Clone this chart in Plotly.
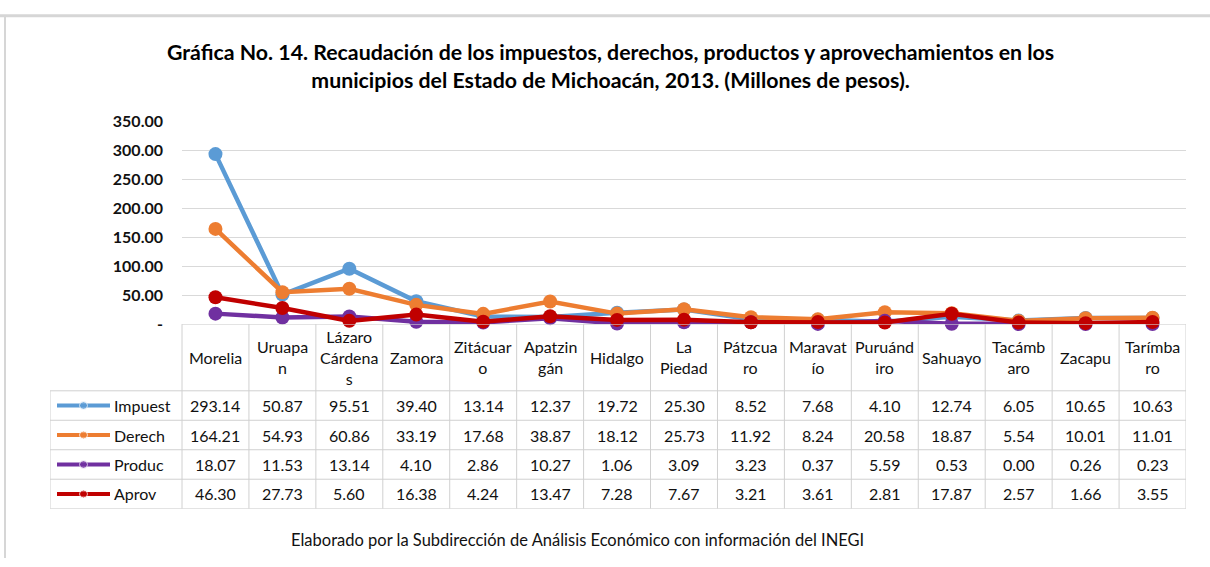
import plotly.graph_objects as go

# datos (millones de pesos)
municipios = ["Morelia", "Uruapan", "Lázaro Cárdenas", "Zamora", "Zitácuaro", "Apatzingán",
              "Hidalgo", "La Piedad", "Pátzcuaro", "Maravatío", "Puruándiro", "Sahuayo",
              "Tacámbaro", "Zacapu", "Tarímbaro"]
# encabezados tal como se cortan en la tabla
encabezados = ["Morelia", "Uruapa<br>n", "Lázaro<br>Cárdena<br>s", "Zamora", "Zitácuar<br>o",
               "Apatzin<br>gán", "Hidalgo", "La<br>Piedad", "Pátzcua<br>ro", "Maravat<br>ío",
               "Puruánd<br>iro", "Sahuayo", "Tacámb<br>aro", "Zacapu", "Tarímba<br>ro"]

impuestos = [293.14, 50.87, 95.51, 39.40, 13.14, 12.37, 19.72, 25.30, 8.52, 7.68, 4.10, 12.74, 6.05, 10.65, 10.63]
derechos = [164.21, 54.93, 60.86, 33.19, 17.68, 38.87, 18.12, 25.73, 11.92, 8.24, 20.58, 18.87, 5.54, 10.01, 11.01]
productos = [18.07, 11.53, 13.14, 4.10, 2.86, 10.27, 1.06, 3.09, 3.23, 0.37, 5.59, 0.53, 0.00, 0.26, 0.23]
aprovech = [46.30, 27.73, 5.60, 16.38, 4.24, 13.47, 7.28, 7.67, 3.21, 3.61, 2.81, 17.87, 2.57, 1.66, 3.55]

series = [
    ("Impuest", impuestos, "#5B9BD5"),
    ("Derech", derechos, "#ED7D31"),
    ("Produc", productos, "#7030A0"),
    ("Aprov", aprovech, "#C00000"),
]

y_ticks = [0, 50, 100, 150, 200, 250, 300, 350]
y_text = ["-" if v == 0 else f"{v:.2f}" for v in y_ticks]

W, H = 1210, 567
FONT = "Lato"
GRID = "#D9D9D9"

def px(x):
    return x / W

def py(y):
    return 1 - y / H

# geometria de la grafica / tabla
plot_l, plot_r, plot_t, plot_b = 182, 1186, 115, 325
tab_l, tab_b = 50, 516
hdr_b = 394
n = len(municipios)
col_w = (plot_r - plot_l) / n
lab_w = (plot_l - tab_l) / col_w          # ancho de la columna de etiquetas en unidades de categoria
row_h = (tab_b - hdr_b) / len(series)
HDR = (hdr_b - plot_b) / row_h            # alto del encabezado en unidades de fila
x_left = -0.5 - lab_w

fig = go.Figure()

cats = list(range(n))
for name, vals, color in series:
    fig.add_trace(go.Scatter(
        x=cats, y=vals, mode="lines+markers", name=name,
        line=dict(color=color, width=4.5),
        marker=dict(color=color, size=14),
        cliponaxis=False,
        xaxis="x", yaxis="y",
    ))

shapes = []
annotations = []
cell_font = dict(family=FONT, size=16, color="#111111")

# claves de la leyenda en la columna de etiquetas
for r, (name, vals, color) in enumerate(series):
    yc = HDR + r + 0.5
    k0 = x_left + 7 / col_w
    k1 = x_left + 60 / col_w
    fig.add_trace(go.Scatter(
        x=[k0, (k0 + k1) / 2, k1], y=[yc, yc, yc], mode="lines+markers",
        line=dict(color=color, width=4),
        marker=dict(color=color, size=[0, 8, 0]),
        xaxis="x2", yaxis="y2", hoverinfo="skip",
    ))
    annotations.append(dict(
        x=x_left + 62 / col_w, y=yc, xref="x2", yref="y2", text=name,
        showarrow=False, xanchor="left", yanchor="middle", font=cell_font,
    ))
    for i, v in enumerate(vals):
        annotations.append(dict(
            x=i, y=yc, xref="x2", yref="y2", text=f"{v:.2f}",
            showarrow=False, xanchor="center", yanchor="middle", font=cell_font,
        ))

# encabezados
for i, t in enumerate(encabezados):
    annotations.append(dict(
        x=i, y=HDR / 2, xref="x2", yref="y2", text=t,
        showarrow=False, xanchor="center", yanchor="middle", font=cell_font,
    ))

# bordes de la tabla
line_style = dict(color="#D0D0D0", width=1)
for i in range(n + 1):
    shapes.append(dict(type="line", xref="x2", yref="y2", x0=i - 0.5, x1=i - 0.5,
                       y0=0, y1=HDR + len(series), line=line_style))
shapes.append(dict(type="line", xref="x2", yref="y2", x0=x_left, x1=x_left,
                   y0=HDR, y1=HDR + len(series), line=line_style))
shapes.append(dict(type="line", xref="x2", yref="y2", x0=-0.5, x1=n - 0.5,
                   y0=0, y1=0, line=line_style))
for r in range(len(series) + 1):
    shapes.append(dict(type="line", xref="x2", yref="y2", x0=x_left, x1=n - 0.5,
                       y0=HDR + r, y1=HDR + r, line=line_style))

# marco exterior
shapes.append(dict(type="line", xref="paper", yref="paper", x0=0, x1=1, y0=py(6), y1=py(6),
                   line=dict(color="#D6D6D6", width=3)))
shapes.append(dict(type="line", xref="paper", yref="paper", x0=px(5), x1=px(5), y0=0, y1=py(6),
                   line=dict(color="#D6D6D6", width=2)))

# titulo y nota
annotations.append(dict(
    x=px(610), y=py(58), xref="paper", yref="paper", showarrow=False,
    text="<b>Gráfica No. 14. Recaudación de los impuestos, derechos, productos y aprovechamientos en los<br>"
         "municipios del Estado de Michoacán, 2013. (Millones de pesos).</b>",
    font=dict(family=FONT, size=21.3, color="#000000"), xanchor="center", yanchor="middle",
))
annotations.append(dict(
    x=px(577), y=py(548), xref="paper", yref="paper", showarrow=False,
    text="Elaborado por la Subdirección de Análisis Económico con información del INEGI",
    font=dict(family=FONT, size=16.5, color="#111111"), xanchor="center", yanchor="middle",
))

fig.update_layout(
    width=W, height=H,
    margin=dict(l=0, r=0, t=0, b=0),
    paper_bgcolor="white", plot_bgcolor="white",
    showlegend=False,
    xaxis=dict(domain=[px(plot_l), px(plot_r)], range=[-0.5, n - 0.5], showgrid=False,
               zeroline=False, showticklabels=False, showline=False, fixedrange=True),
    yaxis=dict(domain=[py(plot_b), py(plot_t)], range=[0, 350], tickvals=y_ticks, ticktext=y_text,
               showgrid=True, gridcolor=GRID, gridwidth=1, zeroline=False, showline=False,
               ticklabelstandoff=18,
               tickfont=dict(family=FONT, size=16, color="#111111", weight="bold")),
    xaxis2=dict(domain=[px(tab_l), px(plot_r)], range=[x_left, n - 0.5], anchor="y2", visible=False),
    yaxis2=dict(domain=[py(tab_b), py(plot_b)], range=[HDR + len(series), 0], anchor="x2", visible=False),
    shapes=shapes,
    annotations=annotations,
)

fig.write_html("out.html", post_script="document.body.style.margin='0';",
               config={"displayModeBar": False})
